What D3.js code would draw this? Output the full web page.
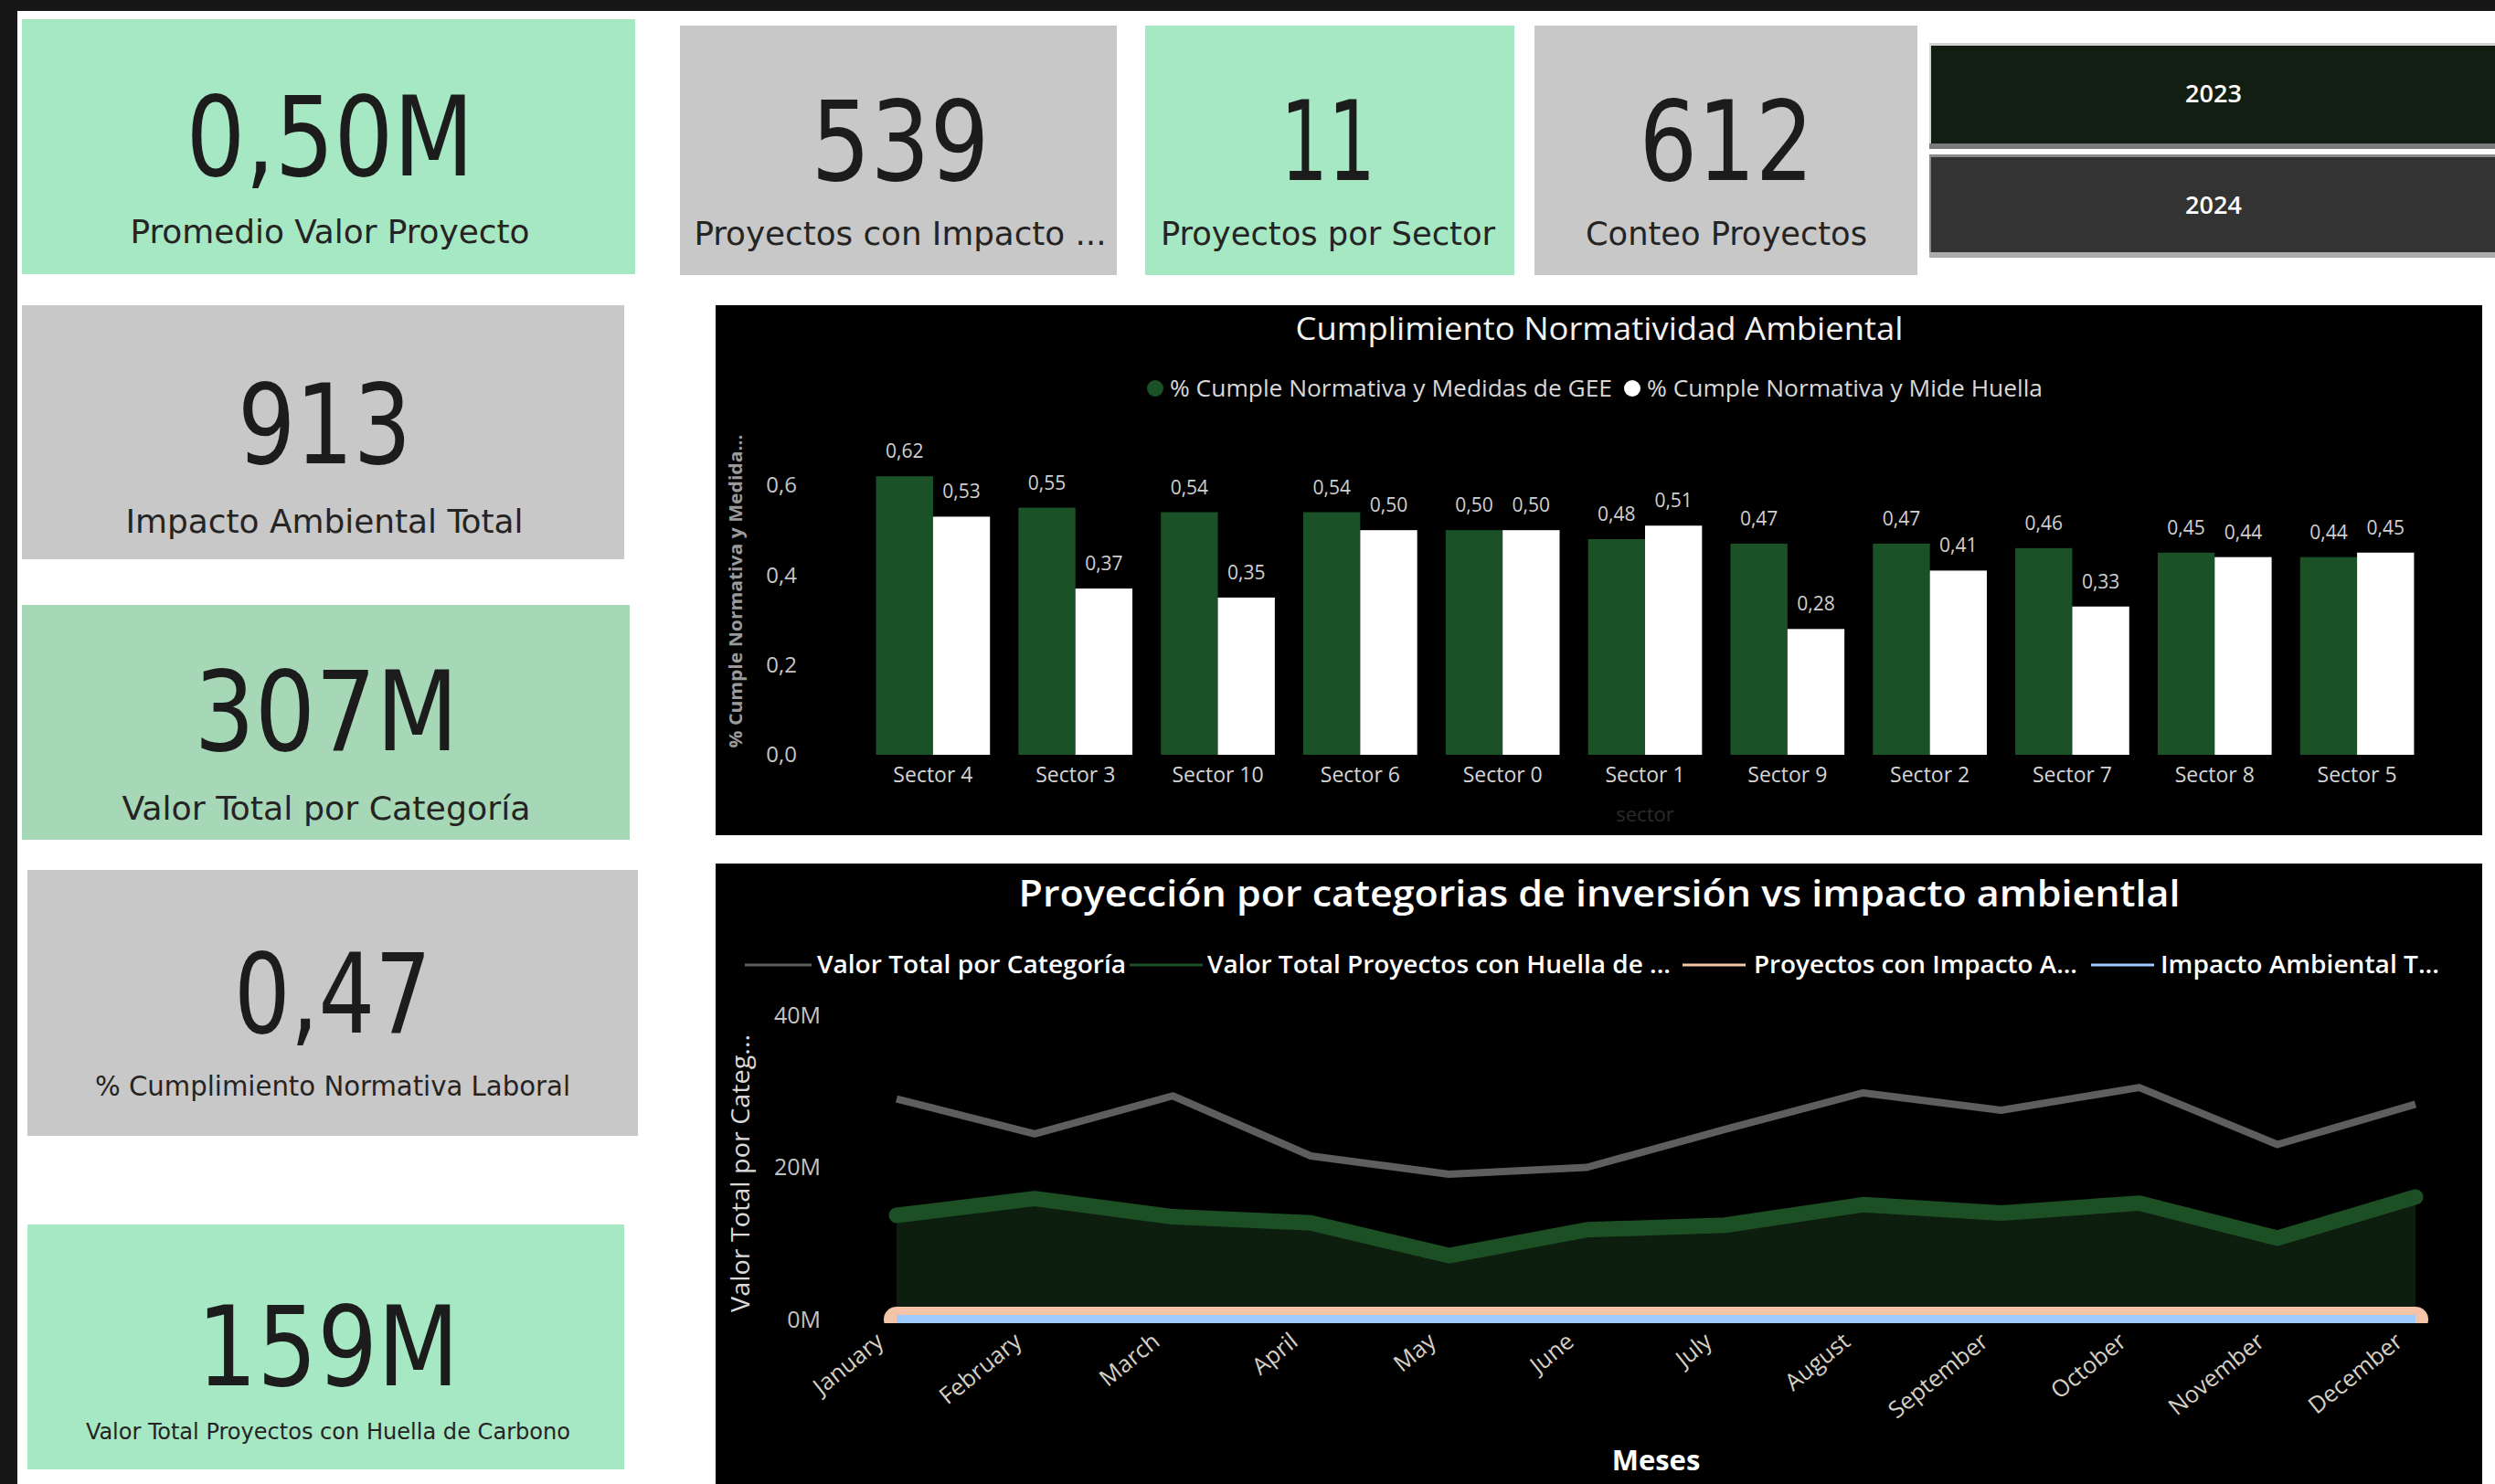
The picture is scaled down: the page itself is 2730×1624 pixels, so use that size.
<!DOCTYPE html>
<html>
<head>
<meta charset="utf-8">
<script src="https://cdn.jsdelivr.net/npm/d3@7"></script>
<style>
  body { margin: 0; background: #ffffff; }
  svg { display: block; }
</style>
</head>
<body>
<svg id="dash" width="2730" height="1624"></svg>
<script>
// ---------------------------------------------------------------
//   DATA
// ---------------------------------------------------------------
var kpiValues = ["0,50M", "539", "11", "612", "913", "307M", "0,47", "159M"];
var kpiLabels = ["Promedio Valor Proyecto", "Proyectos con Impacto ...", "Proyectos por Sector",
                 "Conteo Proyectos", "Impacto Ambiental Total", "Valor Total por Categoría",
                 "% Cumplimiento Normativa Laboral", "Valor Total Proyectos con Huella de Carbono"];
var years = ["2023", "2024"];

var sectors = ["Sector 4", "Sector 3", "Sector 10", "Sector 6", "Sector 0", "Sector 1",
               "Sector 9", "Sector 2", "Sector 7", "Sector 8", "Sector 5"];
var cumpleGEE    = [0.62, 0.55, 0.54, 0.54, 0.50, 0.48, 0.47, 0.47, 0.46, 0.45, 0.44];
var cumpleHuella = [0.53, 0.37, 0.35, 0.50, 0.50, 0.51, 0.28, 0.41, 0.33, 0.44, 0.45];
var barSeriesNames = ["% Cumple Normativa y Medidas de GEE", "% Cumple Normativa y Mide Huella"];
var barTicks = [0, 0.2, 0.4, 0.6];

var months = ["January", "February", "March", "April", "May", "June", "July",
              "August", "September", "October", "November", "December"];
// millions
var valorCategoriaM = [29.0, 24.4, 29.4, 21.5, 19.1, 20.0, 25.0, 29.8, 27.5, 30.5, 23.0, 28.3];
var valorHuellaM    = [13.7, 15.9, 13.5, 12.7, 8.4, 11.8, 12.4, 15.1, 14.0, 15.3, 10.7, 16.1];
// counts (tiny on a millions scale)
var proyectosImpacto = [46, 41, 47, 43, 39, 42, 45, 48, 44, 50, 40, 54];
var impactoTotal     = [78, 70, 80, 72, 66, 71, 76, 82, 75, 84, 69, 90];
var lineSeriesNames = ["Valor Total por Categoría", "Valor Total Proyectos con Huella de ...",
                       "Proyectos con Impacto A...", "Impacto Ambiental T..."];
var lineTicks = [0, 20, 40];


// ---------------------------------------------------------------
//   LAYOUT / STYLE
// ---------------------------------------------------------------
var GREEN_CARD = "#a6e7c4", GREEN_CARD2 = "#a6d8b8", GRAY_CARD = "#c8c8c8";
var cardFont = "'DejaVu Sans Condensed', 'DejaVu Sans', sans-serif";
var uiFont = "'Open Sans', 'Noto Sans', sans-serif";

var cardLayout = [
  {x: 24,   y: 21,   w: 671, h: 279, fill: GREEN_CARD,  cx: 361,  vy: 192,  vw: 315, ly: 266,  lw: 437, ls: 36},
  {x: 744,  y: 28,   w: 478, h: 273, fill: GRAY_CARD,   cx: 985,  vy: 197,  vw: 195, ly: 268,  lw: 451, ls: 36},
  {x: 1253, y: 28,   w: 404, h: 273, fill: GREEN_CARD,  cx: 1453, vy: 197,  vw: 104, ly: 268,  lw: 366, ls: 36},
  {x: 1679, y: 28,   w: 419, h: 273, fill: GRAY_CARD,   cx: 1889, vy: 197,  vw: 191, ly: 268,  lw: 308, ls: 36},
  {x: 24,   y: 334,  w: 659, h: 278, fill: GRAY_CARD,   cx: 355,  vy: 507,  vw: 190, ly: 583,  lw: 435, ls: 35},
  {x: 24,   y: 662,  w: 665, h: 257, fill: GREEN_CARD2, cx: 357,  vy: 821,  vw: 289, ly: 897,  lw: 447, ls: 35},
  {x: 30,   y: 952,  w: 668, h: 291, fill: GRAY_CARD,   cx: 364,  vy: 1130, vw: 216, ly: 1199, lw: 520, ls: 30},
  {x: 30,   y: 1340, w: 653, h: 268, fill: GREEN_CARD,  cx: 359,  vy: 1516, vw: 287, ly: 1575, lw: 530, ls: 25}
];

var fmtLocale = d3.formatLocale({decimal: ",", thousands: ".", grouping: [3], currency: ["$", ""]});
var fmt1 = fmtLocale.format(".1f");
var fmt2 = fmtLocale.format(".2f");

var svg = d3.select("#dash");

// frame
svg.append("rect").attr("width", 2730).attr("height", 1624).attr("fill", "#ffffff");
svg.append("rect").attr("x", 0).attr("y", 0).attr("width", 2730).attr("height", 12).attr("fill", "#171717");
svg.append("rect").attr("x", 0).attr("y", 0).attr("width", 19).attr("height", 1624).attr("fill", "#171717");


// ---------------------------------------------------------------
//   KPI cards
// ---------------------------------------------------------------
var cards = svg.append("g").attr("class", "cards");
kpiValues.forEach(function(v, i) {
  var b = cardLayout[i];
  var g = cards.append("g");
  g.append("rect")
      .attr("x", b.x).attr("y", b.y)
      .attr("width", b.w).attr("height", b.h)
      .attr("fill", b.fill);
  g.append("text")
      .attr("x", b.cx).attr("y", b.vy)
      .attr("text-anchor", "middle")
      .attr("textLength", b.vw).attr("lengthAdjust", "spacingAndGlyphs")
      .style("font-family", cardFont).style("font-size", "122px")
      .style("fill", "#1c1c1c")
      .text(v);
  g.append("text")
      .attr("x", b.cx).attr("y", b.ly)
      .attr("text-anchor", "middle")
      .attr("textLength", b.lw).attr("lengthAdjust", "spacingAndGlyphs")
      .style("font-family", cardFont).style("font-size", b.ls + "px")
      .style("fill", "#252423")
      .text(kpiLabels[i]);
});


// ---------------------------------------------------------------
//   Year slicer buttons
// ---------------------------------------------------------------
var btnLayout = [
  {y: 47,  h: 116, fill: "#131e12", top: "#d4d4d4", bottom: "#7a7a7a", ty: 112},
  {y: 169, h: 113, fill: "#333333", top: "#8a8a8a", bottom: "#ababab", ty: 234}
];
years.forEach(function(yr, i) {
  var b = btnLayout[i];
  svg.append("rect").attr("x", 2111).attr("y", b.y).attr("width", 619).attr("height", b.h).attr("fill", b.top);
  svg.append("rect").attr("x", 2111).attr("y", b.y + b.h - 6).attr("width", 619).attr("height", 6).attr("fill", b.bottom);
  svg.append("rect").attr("x", 2113).attr("y", b.y + 3).attr("width", 617).attr("height", b.h - 9).attr("fill", b.fill);
  svg.append("text")
      .attr("x", 2422).attr("y", b.ty)
      .attr("text-anchor", "middle")
      .style("font-family", uiFont).style("font-size", "27px").style("font-weight", 600)
      .style("fill", "#ffffff")
      .text(yr);
});


// ---------------------------------------------------------------
//   Bar chart: Cumplimiento Normatividad Ambiental
// ---------------------------------------------------------------
var bar_g = svg.append("g").attr("class", "barchart");
bar_g.append("rect").attr("x", 783).attr("y", 334).attr("width", 1933).attr("height", 580).attr("fill", "#000000");

bar_g.append("text")
    .attr("x", 1750).attr("y", 372)
    .attr("text-anchor", "middle")
    .attr("textLength", 665).attr("lengthAdjust", "spacingAndGlyphs")
    .style("font-family", uiFont).style("font-size", "35px")
    .style("fill", "#f2f2f2")
    .text("Cumplimiento Normatividad Ambiental");

var barColors = ["#1b5127", "#ffffff"];
var barLegendX = [1264, 1786];
var barLegendW = [484, 433];
barSeriesNames.forEach(function(name, i) {
  bar_g.append("circle").attr("cx", barLegendX[i]).attr("cy", 425).attr("r", 9).attr("fill", barColors[i]);
  bar_g.append("text")
      .attr("x", barLegendX[i] + 16).attr("y", 434)
      .attr("textLength", barLegendW[i]).attr("lengthAdjust", "spacingAndGlyphs")
      .style("font-family", uiFont).style("font-size", "26px")
      .style("fill", "#d9d9d9")
      .text(name);
});

var barX = d3.scaleBand().domain(sectors).range([943, 2657]).paddingInner(0.2).paddingOuter(0.1);
var barSub = d3.scaleBand().domain([0, 1]).range([0, barX.bandwidth()]);
var barY = d3.scaleLinear().domain([0, 0.6]).range([826, 531]);

// y axis
var barYAxis = bar_g.append("g")
    .attr("transform", "translate(872,0)")
    .call(d3.axisLeft(barY).tickValues(barTicks).tickFormat(fmt1).tickSize(0).tickPadding(0));
barYAxis.select(".domain").remove();
barYAxis.selectAll("text")
    .style("font-family", uiFont).style("font-size", "24px").style("fill", "#c4c4c4");

bar_g.append("text")
    .attr("transform", "translate(812,647) rotate(-90)")
    .attr("text-anchor", "middle")
    .attr("textLength", 343).attr("lengthAdjust", "spacingAndGlyphs")
    .style("font-family", uiFont).style("font-size", "19px").style("font-weight", 700)
    .style("fill", "#9a9a9a")
    .text("% Cumple Normativa y Medida...");

// x axis
var barXAxis = bar_g.append("g")
    .attr("transform", "translate(0,826)")
    .call(d3.axisBottom(barX).tickSize(0).tickPadding(14));
barXAxis.select(".domain").remove();
barXAxis.selectAll("text")
    .style("font-family", uiFont).style("font-size", "23px").style("fill", "#d4d4d4");

bar_g.append("text")
    .attr("x", 1800).attr("y", 899)
    .attr("text-anchor", "middle")
    .style("font-family", uiFont).style("font-size", "22px")
    .style("fill", "#2b2b2b")
    .text("sector");

// bars
[cumpleGEE, cumpleHuella].forEach(function(series, s) {
  var grp = bar_g.append("g").attr("class", "series_" + s);
  grp.selectAll("rect")
      .data(series)
    .enter().append("rect")
      .attr("x", function(d, i) { return barX(sectors[i]) + barSub(s); })
      .attr("y", function(d) { return barY(d); })
      .attr("width", barSub.bandwidth())
      .attr("height", function(d) { return barY(0) - barY(d); })
      .attr("fill", barColors[s]);
  grp.selectAll("text")
      .data(series)
    .enter().append("text")
      .attr("x", function(d, i) { return barX(sectors[i]) + barSub(s) + barSub.bandwidth() / 2; })
      .attr("y", function(d) { return barY(d) - 20; })
      .attr("text-anchor", "middle")
      .style("font-family", uiFont).style("font-size", "21px")
      .style("fill", "#d0d0d0")
      .text(function(d) { return fmt2(d); });
});


// ---------------------------------------------------------------
//   Line chart: Proyección por categorias
// ---------------------------------------------------------------
var line_g = svg.append("g").attr("class", "linechart");
line_g.append("rect").attr("x", 783).attr("y", 945).attr("width", 1933).attr("height", 679).attr("fill", "#000000");

line_g.append("text")
    .attr("x", 1750).attr("y", 992)
    .attr("text-anchor", "middle")
    .attr("textLength", 1271).attr("lengthAdjust", "spacingAndGlyphs")
    .style("font-family", uiFont).style("font-size", "39px").style("font-weight", 600)
    .style("fill", "#ffffff")
    .text("Proyección por categorias de inversión vs impacto ambientlal");

var lineColors = ["#5e5e5e", "#1c4f24", "#f3c4a8", "#9fcbff"];
var lineLegend = [
  {x1: 815,  x2: 888,  tx: 894,  tw: 338},
  {x1: 1236, x2: 1316, tx: 1321, tw: 507},
  {x1: 1841, x2: 1910, tx: 1919, tw: 354},
  {x1: 2288, x2: 2357, tx: 2364, tw: 305}
];
lineSeriesNames.forEach(function(name, i) {
  var L = lineLegend[i];
  line_g.append("line")
      .attr("x1", L.x1).attr("x2", L.x2).attr("y1", 1056).attr("y2", 1056)
      .style("stroke", lineColors[i]).style("stroke-width", 3);
  line_g.append("text")
      .attr("x", L.tx).attr("y", 1065)
      .attr("textLength", L.tw).attr("lengthAdjust", "spacingAndGlyphs")
      .style("font-family", uiFont).style("font-size", "27px").style("font-weight", 600)
      .style("fill", "#ffffff")
      .text(name);
});

var lineX = d3.scalePoint().domain(months).range([981, 2643]);
var lineY = d3.scaleLinear().domain([0, 40]).range([1444, 1111]);

line_g.append("clipPath").attr("id", "lineClip")
  .append("rect").attr("x", 900).attr("y", 1080).attr("width", 1800).attr("height", 368);

var plot = line_g.append("g").attr("clip-path", "url(#lineClip)");

var lineGen = d3.line()
    .x(function(d, i) { return lineX(months[i]); })
    .y(function(d) { return lineY(d); })
    .curve(d3.curveLinear);
var areaGen = d3.area()
    .x(function(d, i) { return lineX(months[i]); })
    .y0(lineY(0))
    .y1(function(d) { return lineY(d); });

plot.append("path").datum(valorHuellaM)
    .attr("d", areaGen).attr("fill", "#0d1d0e");
plot.append("path").datum(valorHuellaM)
    .attr("d", lineGen).attr("fill", "none")
    .style("stroke", lineColors[1]).style("stroke-width", 17)
    .style("stroke-linejoin", "round").style("stroke-linecap", "round");
plot.append("path").datum(valorCategoriaM)
    .attr("d", lineGen).attr("fill", "none")
    .style("stroke", lineColors[0]).style("stroke-width", 8)
    .style("stroke-linejoin", "round");
plot.append("path").datum(proyectosImpacto.map(function(c) { return c / 1e6; }))
    .attr("d", lineGen).attr("fill", "none")
    .style("stroke", lineColors[2]).style("stroke-width", 28)
    .style("stroke-linecap", "round");
plot.append("path").datum(impactoTotal.map(function(c) { return c / 1e6; }))
    .attr("d", lineGen).attr("fill", "none")
    .style("stroke", lineColors[3]).style("stroke-width", 10);

// y axis
var lineYAxis = line_g.append("g")
    .attr("transform", "translate(898,0)")
    .call(d3.axisLeft(lineY).tickValues(lineTicks)
            .tickFormat(function(d) { return d + "M"; })
            .tickSize(0).tickPadding(0));
lineYAxis.select(".domain").remove();
lineYAxis.selectAll("text")
    .style("font-family", uiFont).style("font-size", "25px").style("fill", "#c4c4c4");

line_g.append("text")
    .attr("transform", "translate(820,1284) rotate(-90)")
    .attr("text-anchor", "middle")
    .attr("textLength", 304).attr("lengthAdjust", "spacingAndGlyphs")
    .style("font-family", uiFont).style("font-size", "27px")
    .style("fill", "#d9d9d9")
    .text("Valor Total por Categ...");

// x axis
var lineXAxis = line_g.append("g")
    .attr("transform", "translate(0,1462)")
    .call(d3.axisBottom(lineX).tickSize(0));
lineXAxis.select(".domain").remove();
lineXAxis.selectAll("text")
    .attr("x", 0).attr("y", 0).attr("dy", 0)
    .attr("text-anchor", "end")
    .attr("transform", "translate(-13,9) rotate(-39)")
    .style("font-family", uiFont).style("font-size", "25.5px").style("fill", "#d6d0c4");

line_g.append("text")
    .attr("x", 1812).attr("y", 1609)
    .attr("text-anchor", "middle")
    .style("font-family", uiFont).style("font-size", "31px").style("font-weight", 700)
    .style("fill", "#ffffff")
    .text("Meses");
</script>
</body>
</html>
